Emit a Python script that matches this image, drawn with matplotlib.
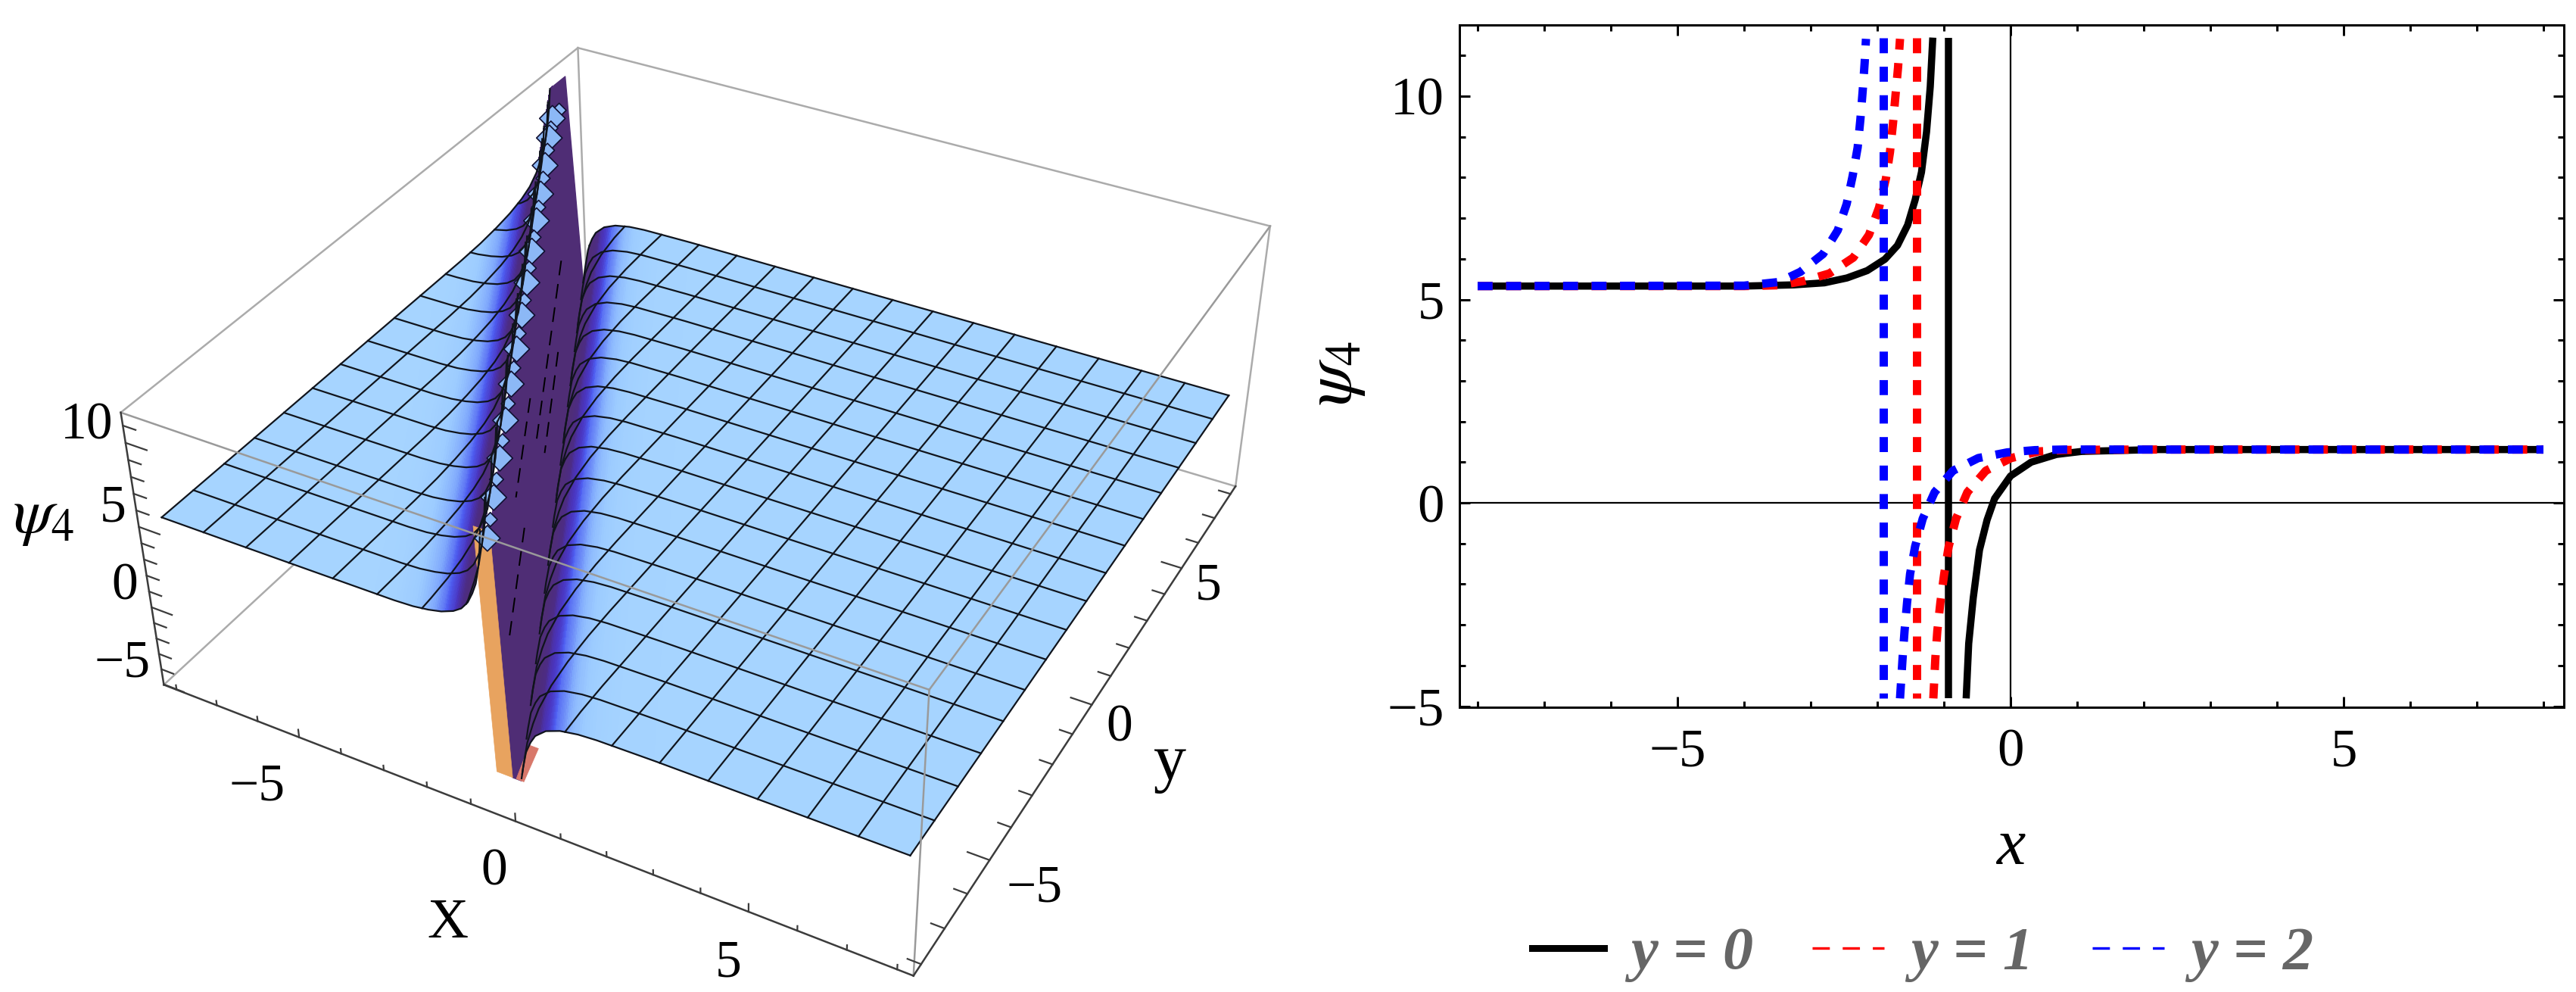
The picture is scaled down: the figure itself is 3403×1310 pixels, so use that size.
import numpy as np, matplotlib
matplotlib.use('Agg')
import matplotlib.pyplot as plt
from matplotlib.colors import LinearSegmentedColormap
from matplotlib.lines import Line2D
from mpl_toolkits.mplot3d.art3d import Poly3DCollection

plt.rcParams['font.family'] = ['Liberation Serif', 'DejaVu Sans']
plt.rcParams['mathtext.fontset'] = 'stix'

# ---------- right panel: curves ----------
black_left_x = [-8, -4, -3.25, -2.795, -2.455, -2.152, -1.886, -1.697, -1.545, -1.432, -1.337, -1.261, -1.205, -1.167]
black_left_y = [5.33, 5.33, 5.36, 5.41, 5.53, 5.71, 5.99, 6.33, 6.83, 7.45, 8.13, 9.12, 10.24, 11.44]
black_right_x = [-0.666, -0.628, -0.56, -0.466, -0.352, -0.239, 0, 0.31, 0.69, 1.07, 2.2, 8]
black_right_y = [-4.81, -3.46, -2.34, -1.16, -0.42, 0.105, 0.66, 1.0, 1.19, 1.264, 1.31, 1.31]
red_left_x = [-8, -4, -3.477, -3.117, -2.72, -2.36, -2.125, -1.974, -1.871, -1.81, -1.764, -1.727, -1.689, -1.659]
red_left_y = [5.33, 5.33, 5.35, 5.45, 5.64, 6.03, 6.59, 7.26, 7.97, 8.62, 9.34, 10.02, 10.70, 11.41]
red_right_x = [-1.159, -1.129, -1.099, -1.053, -0.996, -0.928, -0.818, -0.648, -0.371, 0.008, 0.424, 0.84, 2, 8]
red_right_y = [-4.81, -3.83, -3.15, -2.45, -1.75, -1.07, -0.39, 0.26, 0.79, 1.10, 1.264, 1.30, 1.31, 1.31]
blue_left_x = [-8, -4, -3.477, -3.155, -2.814, -2.594, -2.46, -2.37, -2.295, -2.254, -2.22, -2.19, -2.17]
blue_left_y = [5.33, 5.34, 5.43, 5.68, 6.12, 6.70, 7.35, 8.04, 8.74, 9.43, 10.12, 10.82, 11.41]
blue_right_x = [-1.659, -1.621, -1.591, -1.553, -1.508, -1.432, -1.318, -1.14, -0.864, -0.485, -0.049, 0.367, 0.80, 2, 8]
blue_right_y = [-4.81, -3.83, -3.15, -2.45, -1.75, -1.07, -0.39, 0.26, 0.79, 1.10, 1.24, 1.295, 1.31, 1.31, 1.31]
pole_black, pole_red, pole_blue = -0.928, -1.409, -1.913
clip_low, clip_high = -4.81, 11.44
legend_labels = ['y = 0', 'y = 1', 'y = 2']
x_major = [-5, 0, 5]
y_major = [-5, 0, 5, 10]

# ---------- left panel: surface profile and pole line ----------
prof_left_dx = [-30, -7.07, -2.32, -1.865, -1.525, -1.222, -0.956, -0.767, -0.615, -0.502, -0.407, -0.331, -0.275, -0.237]
prof_left_z = [5.33, 5.33, 5.36, 5.41, 5.53, 5.71, 5.99, 6.33, 6.83, 7.45, 8.13, 9.12, 10.24, 11.44]
prof_right_dx = [0.32, 0.37, 0.464, 0.578, 0.691, 0.93, 1.24, 1.62, 2.0, 3.13, 30]
prof_right_z = [-3.1, -2.34, -1.16, -0.42, 0.105, 0.66, 1.0, 1.19, 1.264, 1.31, 1.31]
pole_line_y = [-8, 8]
pole_line_x = [-0.35, -8.5]
wall_tip_y = 7.2
x_mesh = list(range(-8, 9))
y_mesh = list(range(-8, 9))
x_label_ticks = ['\u22125', '0', '5']
surface_colors = ['#A6D4FF', '#9CCBFF', '#7FA8FC', '#4D5CF0', '#4A35C0', '#4C2C86', '#4F2D75']
wall_color = '#4F2D75'
tear_y = [6.9, 6.5, 6.1, 5.7, 5.2, 4.6, 4.1, 3.5, 3.0, 2.5, 1.9, 1.4, 0.8, 0.3, -0.3, -0.8, -1.4, -1.9, -2.5, -3.0, -3.6, -4.1, -4.7, -5.2, -5.8, -6.3, -6.9, -7.4]

W, H = 3403, 1310
fig = plt.figure(figsize=(W / 100, H / 100), dpi=100, facecolor='white')
px = 0.72  # points per pixel

def ptext(x, y, s, **kw):
    kw.setdefault('ha', 'center'); kw.setdefault('va', 'center')
    return fig.text(x / W, 1 - y / H, s, **kw)

# ---------- 3-D panel ----------
S = 1800.0
cx, cy = 932.39, 621.82
ax3 = fig.add_axes([(cx - S / 2) / W, 1 - (cy + S / 2) / H, S / W, S / H],
                   projection='3d', computed_zorder=False)
ax3.set_axis_off()
bx = 8.32
zb, zt = -5.03, 11.75
dl, dr = prof_left_dx[-1], prof_right_dx[0]
z_low = prof_right_z[0]

def pole_at(y):
    return np.interp(y, pole_line_y, pole_line_x)

def profile(dx):
    dx = np.asarray(dx, float)
    out = np.full(dx.shape, np.nan)
    l = dx <= dl
    r = dx >= dr
    out[l] = np.interp(dx[l], prof_left_dx, prof_left_z)
    out[r] = np.interp(dx[r], prof_right_dx, prof_right_z)
    return out

cmap = LinearSegmentedColormap.from_list('surf', surface_colors)

def sheet(nodes, end_z, zorder):
    ys = np.linspace(-8, 8, 97)
    Y, D = np.meshgrid(ys, nodes, indexing='ij')
    XP = pole_at(Y)
    X = np.clip(XP + D, -8, 8)
    DX = X - XP
    Z = profile(DX)
    Z = np.where(np.isnan(Z), end_z, Z)      # cells cut off by the box edge collapse to a line
    slope_nodes = np.abs(np.gradient(profile(nodes), nodes))
    kernel = np.ones(13) / 13
    slope_nodes = np.convolve(np.pad(slope_nodes, 6, mode='edge'), kernel, mode='valid')
    sl = np.interp(DX, nodes, slope_nodes)
    t = 1 - np.exp(-sl / 1.5)
    ax3.plot_surface(X, Y, Z, facecolors=cmap(t), rstride=1, cstride=1, shade=False,
                     linewidth=0, antialiased=False, zorder=zorder)

nodes_left = -np.geomspace(-prof_left_dx[0], -dl, 150)
nodes_right = np.geomspace(dr, prof_right_dx[-1], 150)

# hidden box edges
def edge(a, b, color, lw, z):
    ax3.plot([a[0], b[0]], [a[1], b[1]], [a[2], b[2]], color=color, lw=lw * px, zorder=z)

cE, cF, cG, cH = (-bx, -bx, zb), (bx, -bx, zb), (bx, bx, zb), (-bx, bx, zb)
cB, cT, cC, cA = (-bx, -bx, zt), (bx, -bx, zt), (bx, bx, zt), (-bx, bx, zt)
for a, b in [(cE, cH), (cG, cH), (cH, cA), (cB, cA), (cA, cC), (cC, cG)]:
    edge(a, b, '#ABABAB', 2.5, 0.5)

sheet(nodes_left, clip_high, 1)

# dark wall spanning the pole: from the top of the left sheet to the foot of the right sheet
xf = pole_at(-8.0)
y_top_end = np.interp(-8 - dl, pole_line_x[::-1], pole_line_y[::-1])
y_low_end = min(8.0, np.interp(-8 - dr, pole_line_x[::-1], pole_line_y[::-1]))
wall = [[(xf + dl + 0.2, -8, clip_high), (-8, y_top_end, clip_high), (-8, wall_tip_y, clip_high), (-8, y_low_end, z_low),
         (xf + dr, -8, z_low), (xf + dr - 0.2, -8, z_low)]]
ax3.add_collection3d(Poly3DCollection(wall, facecolors=wall_color, edgecolors=wall_color, linewidths=1.0, zorder=2))
# back faces at the near end of the wall
orange = [[(xf + dl - 0.15, -8, clip_high), (xf + dl + 0.2, -8, clip_high), (xf + dr - 0.2, -8, z_low), (xf + dr - 0.55, -8, z_low)]]
ax3.add_collection3d(Poly3DCollection(orange, facecolors='#E8A35F', edgecolors='#E8A35F', linewidths=0.5, zorder=2.5))

sheet(nodes_right, z_low, 2.6)

pink = [[(xf + dr + 0.22, -8, -0.6), (xf + dr + 0.42, -8, -0.6), (xf + dr + 0.05, -8, z_low), (xf + dr - 0.12, -8, z_low)]]
ax3.add_collection3d(Poly3DCollection(pink, facecolors='#D8786A', edgecolors='#D8786A', linewidths=0.5, zorder=3))

# torn cells on the wall
tear_y_a = np.array(tear_y)
tear_size = [300 if i % 2 else 90 for i in range(len(tear_y))]
ax3.scatter(np.maximum(pole_at(tear_y_a) - 0.2, -8), tear_y_a, np.full(len(tear_y), 9.6), s=tear_size, marker='D', c='#8CB8F6',
            edgecolors='#101030', linewidths=1.2, depthshade=False, zorder=4)

# streaks on the wall
for y0, y1, z in [(5.5, -1.0, 2.0), (-3.5, -6.5, 2.0), (4.0, 0.5, -1.5), (-1.5, -4.5, 6.0)]:
    yy = np.array([y0, y1])
    ax3.plot(pole_at(yy), yy, [z, z], color='black', lw=1.4, ls=(0, (10, 6)), zorder=4)

# mesh
fine = np.linspace(-8, 8, 1601)
for yk in y_mesh:
    z = profile(fine - pole_at(float(yk)))
    ax3.plot(fine, np.full(fine.shape, yk), z, color='#10141C', lw=1.6, zorder=5)
for xk in x_mesh:
    z = profile(xk - pole_at(fine))
    ax3.plot(np.full(fine.shape, xk), fine, z, color='#10141C', lw=1.6, zorder=5)

# visible box edges
for a, b in [(cB, cT), (cT, cC), (cT, cF)]:
    edge(a, b, '#9A9A9A', 2.5, 6)
for a, b in [(cE, cF), (cF, cG), (cE, cB)]:
    edge(a, b, '#3C3C3C', 2.5, 6)

# ticks
for v in np.arange(-8, 9):
    ln = 0.5 if v % 5 == 0 else 0.3
    ax3.plot([v, v], [-bx, -bx], [zb, zb + ln], color='#3C3C3C', lw=1.6, zorder=6)
    ax3.plot([bx, bx - ln * 0.9], [v, v], [zb, zb], color='#3C3C3C', lw=1.6, zorder=6)
for v in np.arange(-5, 12):
    ln = 0.5 if v % 5 == 0 else 0.3
    ax3.plot([-bx, -bx + ln], [-bx, -bx], [v, v], color='#3C3C3C', lw=1.6, zorder=6)

ax3.set_xlim(-bx, bx); ax3.set_ylim(-bx, bx); ax3.set_zlim(zb, zt)
ax3.view_init(elev=35.8116, azim=-61.4524, roll=0.1157)
ax3.set_proj_type('persp', focal_length=0.37414)
ax3.set_box_aspect((1, 0.99731, 0.40128), zoom=0.85457)

fs3 = 50
for (x, y), s in zip([(340, 1040), (653, 1152), (962, 1273)], x_label_ticks):
    ptext(x, y, s, fontsize=fs3)
for (x, y), s in zip([(1367, 1174), (1479, 962), (1596, 775)], x_label_ticks):
    ptext(x, y, s, fontsize=fs3)
for (x, y), s in zip([(115, 563), (149, 672), (165, 775), (162, 877)], ['10', '5', '0', '\u22125']):
    ptext(x, y, s, fontsize=fs3)
ptext(591, 1220, 'X', fontsize=54)
ptext(1546, 1008, 'y', fontsize=62)
ptext(57, 683, r'$\psi_{\mathrm{4}}$', fontsize=62)

# ---------- right panel ----------
L, R, T, B = 1928, 3387, 33, 934
ax = fig.add_axes([L / W, 1 - B / H, (R - L) / W, (B - T) / H])
ax.set_xlim((L - 2656) / 88, (R - 2656) / 88)
ax.set_ylim((664 - B) / 53.7, (664 - T) / 53.7)
ax.axhline(0, color='black', lw=2.2 * px, zorder=1)
ax.axvline(0, color='black', lw=2.2 * px, zorder=1)

lw_black = 9.5 * px
ax.plot(black_left_x, black_left_y, color='black', lw=lw_black, zorder=2, solid_capstyle='butt')
ax.plot([pole_black, pole_black], [clip_high, clip_low], color='black', lw=lw_black, zorder=2, solid_capstyle='butt')
ax.plot(black_right_x, black_right_y, color='black', lw=lw_black, zorder=2, solid_capstyle='butt')
lw_d = 11 * px
dash = (0, (1.8, 1.62))
for lx, ly, rx, ry, p, c, z in [(red_left_x, red_left_y, red_right_x, red_right_y, pole_red, '#FF0000', 3),
                                (blue_left_x, blue_left_y, blue_right_x, blue_right_y, pole_blue, '#0000FF', 4)]:
    ax.plot(lx, ly, color=c, lw=lw_d, ls=dash, zorder=z, dash_capstyle='butt')
    ax.plot([p, p], [clip_high, clip_low], color=c, lw=lw_d, ls=dash, zorder=z, dash_capstyle='butt')
    ax.plot(rx, ry, color=c, lw=lw_d, ls=dash, zorder=z, dash_capstyle='butt')

ax.set_xticks(x_major, ['\u22125', '0', '5'])
ax.set_yticks(y_major, ['\u22125', '0', '5', '10'])
ax.set_xticks(np.arange(-8, 9), minor=True)
ax.set_yticks(np.arange(-5, 12), minor=True)
ax.tick_params(which='major', direction='in', length=14 * px, width=3 * px, top=True, right=True, labelsize=51, pad=20)
ax.tick_params(which='minor', direction='in', length=8 * px, width=3 * px, top=True, right=True)
ax.tick_params(axis='y', which='major', pad=14.5)
for s in ax.spines.values():
    s.set_linewidth(3 * px)
ptext(2656, 1120, 'x', fontsize=62, style='italic')
ptext(1765, 493, r'$\mathit{\psi_4}$', fontsize=66, rotation=90, fontweight='bold')

handles = [Line2D([], [], color='black', lw=9 * px),
           Line2D([], [], color='#FF0000', lw=3.4 * px, ls=(0, (6.7, 5))),
           Line2D([], [], color='#0000FF', lw=3.4 * px, ls=(0, (6.7, 5)))]
fig.legend(handles, legend_labels, loc='center', bbox_to_anchor=(2540 / W, 1 - 1260 / H), ncol=3, frameon=False,
           labelcolor='#666666', handlelength=1.18, handletextpad=0.43, columnspacing=0.97,
           prop={'family': 'Liberation Serif', 'style': 'italic', 'weight': 'bold', 'size': 58})

fig.savefig('out.png', dpi=100, facecolor='white')
